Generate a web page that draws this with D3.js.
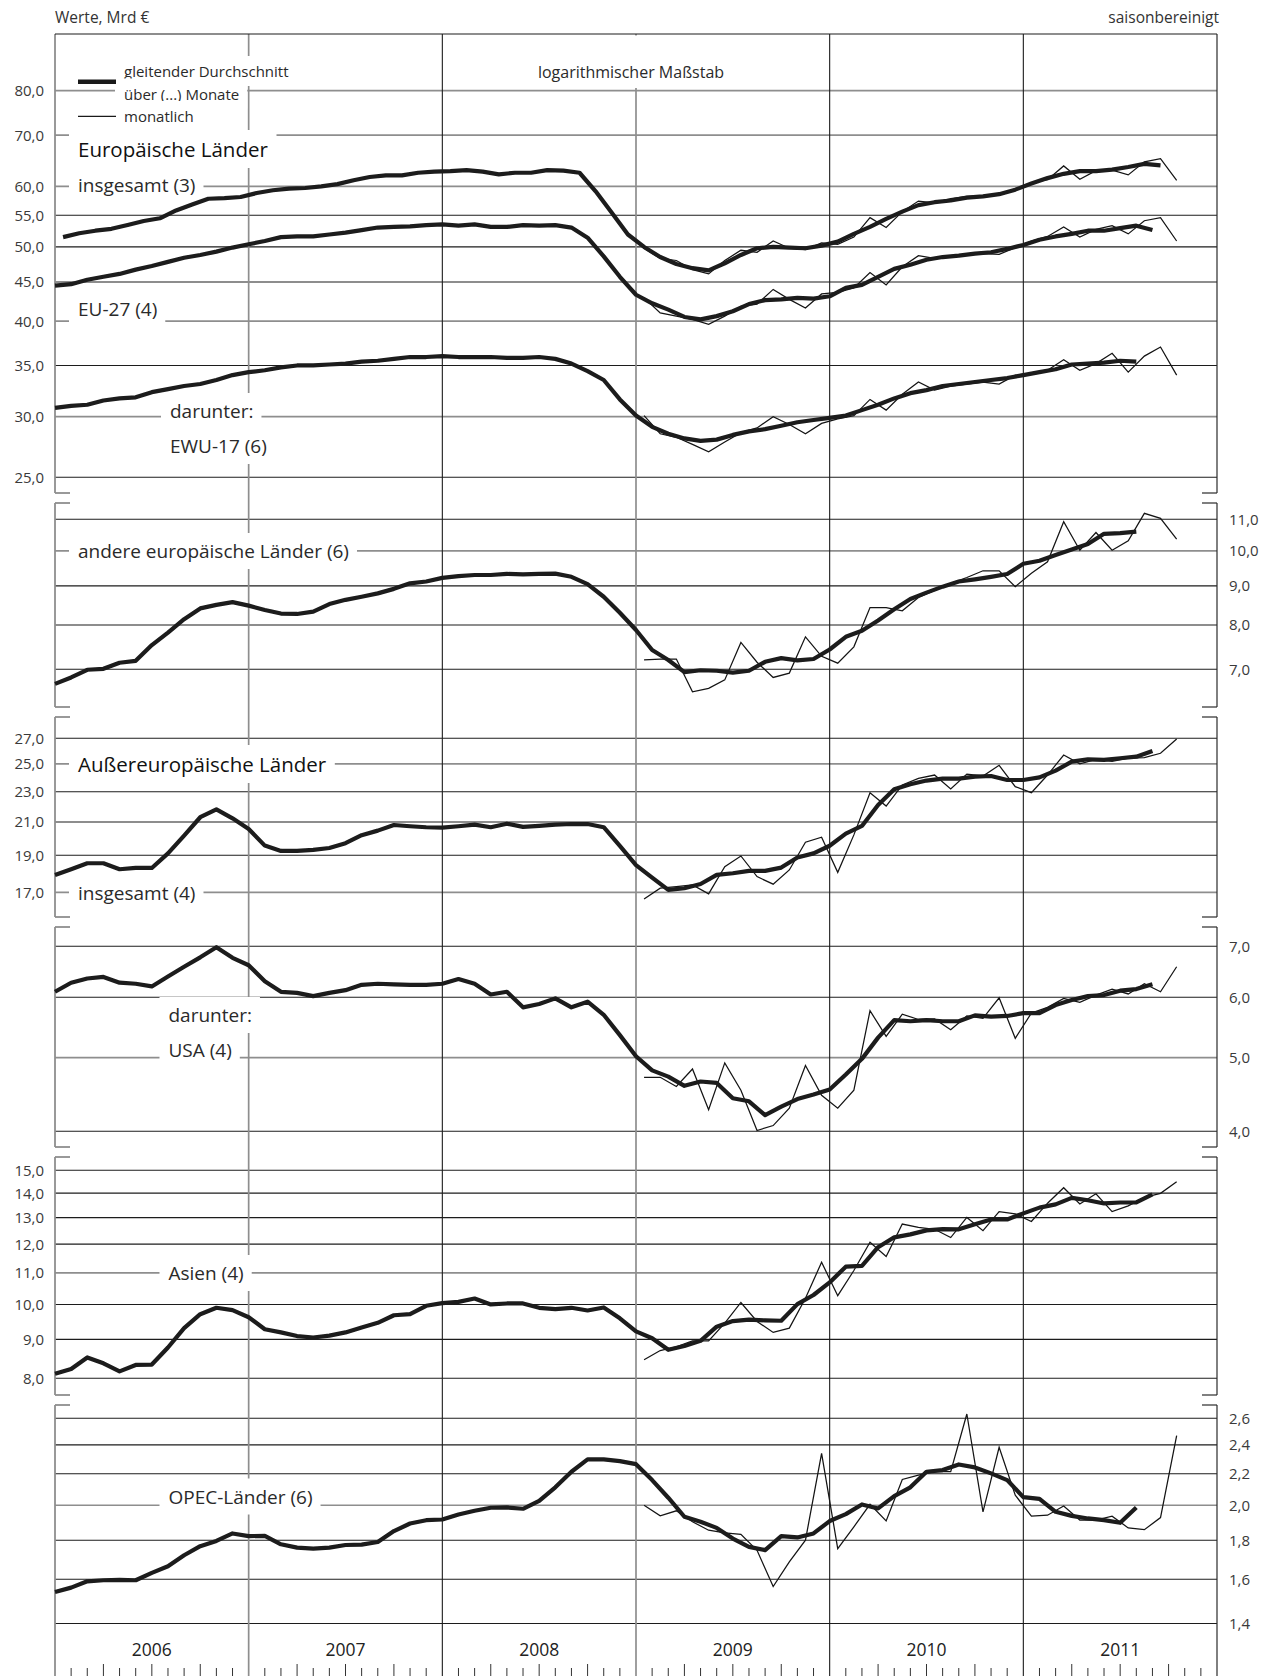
<!DOCTYPE html>
<html>
<head>
<meta charset="utf-8">
<script src="https://cdn.jsdelivr.net/npm/d3@7/dist/d3.min.js"></script>
<style>
  body { margin: 0; background: #fff; }
  svg text { font-family: "Open Sans", "Noto Sans", sans-serif; }
</style>
</head>
<body>
<div id="chart"></div>
<script>
// categories and tick labels
const years = ["2006", "2007", "2008", "2009", "2010", "2011"];
const ticksEur = [80, 70, 60, 55, 50, 45, 40, 35, 30, 25];
const ticksAndere = [11, 10, 9, 8, 7];
const ticksAusser = [27, 25, 23, 21, 19, 17];
const ticksUsa = [7, 6, 5, 4];
const ticksAsien = [15, 14, 13, 12, 11, 10, 9, 8];
const ticksOpec = [2.6, 2.4, 2.2, 2.0, 1.8, 1.6, 1.4];

// moving averages, one value per month (Werte, Mrd €)
// (3) months centred on mid-month, starting Jan 2006
const maEurInsg = [51.5, 52.1, 52.5, 52.8, 53.4, 54.05, 54.5, 55.8, 56.8, 57.8, 57.9, 58.1,
  58.8, 59.3, 59.6, 59.7, 60.0, 60.4, 61.1, 61.7, 62.0, 62.0, 62.5, 62.7,
  62.8, 63.0, 62.7, 62.2, 62.5, 62.5, 63.0, 62.9, 62.5, 59.1, 55.4, 51.9,
  50.0, 48.5, 47.5, 46.9, 46.6, 47.6, 48.8, 49.8, 50.0, 49.9, 49.8, 50.2,
  50.8, 52.0, 53.1, 54.4, 55.6, 56.7, 57.2, 57.5, 58.0, 58.2, 58.6, 59.4,
  60.5, 61.5, 62.3, 62.8, 62.8, 63.1, 63.6, 64.2, 63.9];
// (4) and (6) months centred on month boundaries, starting 1 Jan 2006
const maEU27 = [44.5, 44.7, 45.3, 45.7, 46.1, 46.7, 47.2, 47.8, 48.4, 48.8, 49.3, 49.9,
  50.4, 50.9, 51.5, 51.6, 51.6, 51.9, 52.2, 52.6, 53.0, 53.1, 53.2, 53.4,
  53.5, 53.3, 53.5, 53.1, 53.1, 53.4, 53.3, 53.4, 53.0, 51.4, 48.6, 45.7,
  43.3, 42.2, 41.4, 40.5, 40.2, 40.6, 41.2, 42.1, 42.6, 42.7, 42.9, 42.8,
  43.1, 44.2, 44.6, 45.7, 46.8, 47.4, 48.1, 48.5, 48.7, 49.0, 49.2, 49.7,
  50.3, 51.1, 51.6, 52.0, 52.5, 52.5, 52.9, 53.3, 52.6];
const maEWU = [30.8, 31.0, 31.1, 31.5, 31.7, 31.8, 32.3, 32.6, 32.9, 33.1, 33.5, 34.0,
  34.3, 34.5, 34.8, 35.0, 35.0, 35.1, 35.2, 35.4, 35.5, 35.7, 35.9, 35.9,
  36.0, 35.9, 35.9, 35.9, 35.8, 35.8, 35.9, 35.7, 35.2, 34.4, 33.5, 31.6,
  30.1, 29.1, 28.5, 28.1, 27.9, 28.0, 28.4, 28.7, 28.9, 29.2, 29.5, 29.7,
  29.9, 30.1, 30.6, 31.1, 31.7, 32.2, 32.5, 32.9, 33.1, 33.3, 33.5, 33.7,
  34.0, 34.3, 34.6, 35.1, 35.2, 35.3, 35.5, 35.4];
const maAndere = [6.70, 6.83, 6.99, 7.01, 7.14, 7.18, 7.53, 7.82, 8.14, 8.41, 8.50, 8.57,
  8.48, 8.37, 8.28, 8.27, 8.33, 8.52, 8.63, 8.71, 8.80, 8.92, 9.07, 9.12,
  9.22, 9.27, 9.30, 9.30, 9.33, 9.32, 9.33, 9.34, 9.25, 9.05, 8.71, 8.30,
  7.88, 7.42, 7.20, 6.94, 6.98, 6.97, 6.93, 6.97, 7.16, 7.24, 7.19, 7.22,
  7.43, 7.72, 7.86, 8.11, 8.39, 8.65, 8.82, 8.98, 9.12, 9.18, 9.25, 9.33,
  9.62, 9.71, 9.88, 10.04, 10.21, 10.53, 10.55, 10.60];
const maAusser = [17.91, 18.22, 18.55, 18.55, 18.22, 18.29, 18.29, 19.11, 20.16, 21.30, 21.81, 21.23,
  20.56, 19.56, 19.25, 19.25, 19.31, 19.42, 19.70, 20.18, 20.46, 20.81, 20.73, 20.67,
  20.65, 20.73, 20.83, 20.67, 20.89, 20.69, 20.75, 20.83, 20.87, 20.87, 20.67, 19.55,
  18.45, 17.77, 17.12, 17.21, 17.43, 17.91, 18.00, 18.13, 18.13, 18.31, 18.87, 19.11,
  19.55, 20.28, 20.75, 22.10, 23.17, 23.52, 23.78, 23.92, 23.92, 24.06, 24.11, 23.82,
  23.82, 24.01, 24.50, 25.17, 25.35, 25.30, 25.43, 25.55, 25.99];
const maUsa = [6.10, 6.27, 6.35, 6.38, 6.27, 6.25, 6.20, 6.39, 6.58, 6.77, 6.98, 6.76,
  6.61, 6.30, 6.10, 6.08, 6.02, 6.08, 6.13, 6.23, 6.25, 6.24, 6.23, 6.23,
  6.25, 6.34, 6.25, 6.05, 6.10, 5.82, 5.88, 5.98, 5.82, 5.92, 5.69, 5.35,
  5.02, 4.81, 4.72, 4.59, 4.65, 4.63, 4.42, 4.38, 4.20, 4.31, 4.41, 4.47,
  4.54, 4.75, 4.98, 5.31, 5.60, 5.58, 5.60, 5.58, 5.58, 5.68, 5.66, 5.67,
  5.72, 5.72, 5.86, 5.95, 6.02, 6.04, 6.12, 6.15, 6.24];
const maAsien = [8.11, 8.23, 8.52, 8.37, 8.17, 8.33, 8.34, 8.78, 9.31, 9.71, 9.90, 9.83,
  9.62, 9.28, 9.19, 9.09, 9.05, 9.10, 9.19, 9.33, 9.46, 9.68, 9.71, 9.96,
  10.04, 10.08, 10.18, 10.00, 10.03, 10.03, 9.90, 9.86, 9.90, 9.82, 9.91, 9.59,
  9.22, 9.03, 8.72, 8.82, 8.96, 9.35, 9.51, 9.55, 9.53, 9.52, 10.01, 10.29,
  10.69, 11.21, 11.24, 11.89, 12.25, 12.36, 12.51, 12.56, 12.55, 12.74, 12.93, 12.93,
  13.17, 13.40, 13.53, 13.80, 13.70, 13.57, 13.61, 13.61, 13.95];
const maOpec = [1.54, 1.56, 1.59, 1.595, 1.597, 1.595, 1.631, 1.664, 1.720, 1.768, 1.796, 1.837,
  1.822, 1.824, 1.778, 1.760, 1.755, 1.760, 1.774, 1.776, 1.790, 1.850, 1.893, 1.912,
  1.916, 1.945, 1.967, 1.985, 1.987, 1.979, 2.027, 2.111, 2.213, 2.297, 2.297, 2.285,
  2.264, 2.158, 2.046, 1.932, 1.903, 1.868, 1.809, 1.764, 1.747, 1.822, 1.815, 1.837,
  1.907, 1.947, 2.005, 1.981, 2.056, 2.111, 2.213, 2.224, 2.262, 2.242, 2.202, 2.158,
  2.050, 2.039, 1.961, 1.937, 1.922, 1.912, 1.897, 1.987];

// monthly values Jan 2009 - Oct 2011
const monEurInsg = [49.8, 48.3, 48.0, 46.7, 46.1, 48.0, 49.5, 49.2, 50.9, 49.8, 49.6, 50.6,
  50.4, 51.5, 54.6, 53.0, 55.6, 57.4, 57.1, 57.8, 58.2, 58.3, 58.5, 59.5,
  60.6, 61.2, 63.8, 61.3, 62.9, 63.0, 62.1, 64.6, 65.2, 61.1];
const monEU27 = [42.9, 41.0, 40.6, 40.2, 39.6, 40.6, 41.8, 42.1, 44.0, 42.7, 41.6, 43.4,
  43.6, 44.2, 46.3, 44.6, 47.1, 48.7, 48.3, 48.5, 48.8, 49.0, 48.9, 49.9,
  50.9, 51.6, 53.1, 51.5, 52.7, 53.3, 52.0, 54.1, 54.6, 50.9];
const monEWU = [30.1, 28.5, 28.2, 27.6, 27.0, 27.8, 28.6, 29.0, 30.0, 29.3, 28.5, 29.4,
  29.8, 30.1, 31.6, 30.6, 32.1, 33.3, 32.5, 32.9, 33.1, 33.3, 33.1, 34.0,
  34.2, 34.5, 35.6, 34.5, 35.2, 36.3, 34.3, 36.0, 37.0, 34.0];
const monAndere = [7.20, 7.22, 7.22, 6.54, 6.61, 6.78, 7.59, 7.15, 6.83, 6.92, 7.72, 7.28,
  7.13, 7.49, 8.43, 8.43, 8.35, 8.69, 8.88, 9.07, 9.23, 9.42, 9.42, 8.98,
  9.35, 9.68, 10.92, 10.02, 10.57, 10.02, 10.31, 11.20, 11.03, 10.36];
const monAusser = [16.66, 17.21, 17.29, 17.38, 16.92, 18.36, 18.96, 17.82, 17.42, 18.18, 19.76, 20.06,
  18.05, 20.20, 22.93, 22.03, 23.47, 23.94, 24.18, 23.19, 24.25, 24.11, 24.90, 23.35,
  22.93, 24.18, 25.68, 25.00, 25.35, 25.19, 25.43, 25.48, 25.81, 26.95];
const monUsa = [4.71, 4.71, 4.58, 4.83, 4.27, 4.92, 4.53, 4.01, 4.07, 4.29, 4.88, 4.46,
  4.29, 4.53, 5.76, 5.33, 5.70, 5.61, 5.62, 5.44, 5.67, 5.63, 5.99, 5.30,
  5.72, 5.82, 5.98, 5.91, 6.04, 6.15, 6.06, 6.25, 6.10, 6.58];
const monAsien = [8.46, 8.70, 8.80, 8.96, 8.96, 9.45, 10.06, 9.50, 9.19, 9.31, 10.19, 11.36,
  10.27, 11.08, 12.07, 11.56, 12.75, 12.62, 12.55, 12.24, 13.01, 12.50, 13.24, 13.15,
  12.85, 13.58, 14.23, 13.55, 13.97, 13.24, 13.47, 13.82, 13.99, 14.49];
const monOpec = [2.000, 1.937, 1.967, 1.903, 1.855, 1.840, 1.832, 1.746, 1.565, 1.686, 1.800, 2.339,
  1.755, 1.874, 2.006, 1.908, 2.162, 2.190, 2.213, 2.213, 2.634, 1.961, 2.382, 2.062,
  1.935, 1.941, 1.996, 1.913, 1.912, 1.935, 1.868, 1.858, 1.927, 2.467];

// layout
var W = 1264, H = 1676;
var plotL = 55, plotR = 1217, chartTop = 34, chartBottom = 1676;
var greyLine = "#8e8e8e", darkLine = "#1c1c1c";

var svg = d3.select("#chart").append("svg")
    .attr("width", W)
    .attr("height", H);

// x scale in months since 1 Jan 2006
var x = d3.scaleLinear().domain([0, 72]).range([plotL, plotR]);

// every panel has its own log scale (same px per decade)
var panels = [
  {dom: [25, 80], rng: [477.3, 90.7], y0: chartTop, y1: 493, side: "left", ticks: ticksEur, grey: [80, 70, 60, 40, 30]},
  {dom: [7, 11], rng: [669.3, 519.3], y0: 503, y1: 707, side: "right", ticks: ticksAndere, grey: [10]},
  {dom: [17, 27], rng: [892.3, 738.3], y0: 717, y1: 917, side: "left", ticks: ticksAusser, grey: [25, 17]},
  {dom: [4, 7], rng: [1131.3, 946.3], y0: 927, y1: 1147, side: "right", ticks: ticksUsa, grey: [5]},
  {dom: [8, 15], rng: [1378.3, 1170.3], y0: 1157, y1: 1395, side: "left", ticks: ticksAsien, grey: [11]},
  {dom: [1.4, 2.6], rng: [1623.5, 1418.3], y0: 1405, y1: chartBottom, side: "right", ticks: ticksOpec, grey: [2.0]}
];
panels.forEach(function(p) {
  p.y = d3.scaleLog().domain(p.dom).range(p.rng);
});

var series = [
  {p: 0, ma: maEurInsg, maStart: 0.5, mon: monEurInsg},
  {p: 0, ma: maEU27, maStart: 0, mon: monEU27},
  {p: 0, ma: maEWU, maStart: 0, mon: monEWU},
  {p: 1, ma: maAndere, maStart: 0, mon: monAndere},
  {p: 2, ma: maAusser, maStart: 0, mon: monAusser},
  {p: 3, ma: maUsa, maStart: 0, mon: monUsa},
  {p: 4, ma: maAsien, maStart: 0, mon: monAsien},
  {p: 5, ma: maOpec, maStart: 0, mon: monOpec}
];
var monStart = 36.5;

var fmt = function(v) { return d3.format(".1f")(v).replace(".", ","); };

// title row
svg.append("text").attr("x", plotL).attr("y", 23)
  .style("font-size", "15.5px").attr("fill", "#333").text("Werte, Mrd €");
svg.append("text").attr("x", plotR + 2).attr("y", 23).attr("text-anchor", "end")
  .style("font-size", "15.5px").attr("fill", "#333").text("saisonbereinigt");

// horizontal grid lines
var grid = svg.append("g");
panels.forEach(function(p) {
  p.ticks.forEach(function(t) {
    var isGrey = p.grey.indexOf(t) >= 0;
    grid.append("line")
      .attr("x1", plotL).attr("x2", plotR)
      .attr("y1", p.y(t)).attr("y2", p.y(t))
      .attr("stroke", isGrey ? greyLine : darkLine)
      .attr("stroke-width", isGrey ? 1.7 : 1.1);
    grid.append("text")
      .attr("x", p.side == "left" ? 44 : 1229)
      .attr("y", p.y(t) + 5.5)
      .attr("text-anchor", p.side == "left" ? "end" : "start")
      .style("font-size", "15px")
      .attr("fill", "#3a3a3a")
      .text(fmt(t));
  });
});

// year separators
var yearG = svg.append("g");
d3.range(1, 6).forEach(function(i) {
  var grey = (i == 1 || i == 3);
  yearG.append("line")
    .attr("x1", x(i * 12)).attr("x2", x(i * 12))
    .attr("y1", chartTop).attr("y2", chartBottom)
    .attr("stroke", grey ? greyLine : darkLine)
    .attr("stroke-width", grey ? 1.7 : 1.1);
});

// panel side lines with small brackets
var frame = svg.append("g");
panels.forEach(function(p) {
  frame.append("line").attr("x1", plotL).attr("x2", plotL).attr("y1", p.y0).attr("y2", p.y1)
    .attr("stroke", greyLine).attr("stroke-width", 1.8);
  frame.append("line").attr("x1", plotR).attr("x2", plotR).attr("y1", p.y0).attr("y2", p.y1)
    .attr("stroke", "#2a2a2a").attr("stroke-width", 1.2);
  [p.y0, p.y1].forEach(function(yy) {
    if (yy == chartTop || yy == chartBottom) return;
    frame.append("line").attr("x1", plotL).attr("x2", plotL + 15).attr("y1", yy).attr("y2", yy)
      .attr("stroke", greyLine).attr("stroke-width", 1.8);
    frame.append("line").attr("x1", plotR - 15).attr("x2", plotR).attr("y1", yy).attr("y2", yy)
      .attr("stroke", "#2a2a2a").attr("stroke-width", 1.2);
  });
});

// text labels, white boxes cut the grid lines behind them
var labels = [
  {lines: ["gleitender Durchschnitt", "über (...) Monate", "monatlich"], x: 124, ys: [77, 99.5, 122], size: 15},
  {lines: ["Europäische Länder"], x: 78, ys: [157], size: 20.5, weight: 500},
  {lines: ["insgesamt (3)"], x: 78, ys: [192], size: 19},
  {lines: ["EU-27 (4)"], x: 78, ys: [316], size: 19},
  {lines: ["darunter:", "EWU-17 (6)"], x: 170, ys: [418, 453], size: 19},
  {lines: ["logarithmischer Maßstab"], x: 631, ys: [78], size: 16, anchor: "middle", boxTop: 35.5},
  {lines: ["andere europäische Länder (6)"], x: 78, ys: [558], size: 19},
  {lines: ["Außereuropäische Länder"], x: 78, ys: [772], size: 20.5, weight: 500},
  {lines: ["insgesamt (4)"], x: 78, ys: [900], size: 19},
  {lines: ["darunter:", "USA (4)"], x: 168.5, ys: [1022, 1057], size: 19},
  {lines: ["Asien (4)"], x: 168.5, ys: [1280], size: 19},
  {lines: ["OPEC-Länder (6)"], x: 168.5, ys: [1503.5], size: 19}
];
var labG = svg.append("g");
labels.forEach(function(l) {
  l.lines.forEach(function(s, i) {
    var g = labG.append("g");
    var t = g.append("text")
      .attr("x", l.x).attr("y", l.ys[i])
      .attr("text-anchor", l.anchor || "start")
      .style("font-size", l.size + "px")
      .style("font-weight", l.weight || 400)
      .attr("fill", l.weight ? "#111" : "#2a2a2a")
      .text(s);
    var b = t.node().getBBox();
    var y0 = (i == 0 && l.boxTop) ? l.boxTop : b.y - 5;
    g.insert("rect", "text")
      .attr("x", b.x - 9).attr("y", y0)
      .attr("width", b.width + 17).attr("height", b.y + b.height + 5 - y0)
      .attr("fill", "#fff");
  });
});
// legend samples
labG.append("line").attr("x1", 78).attr("x2", 116).attr("y1", 81.7).attr("y2", 81.7)
  .attr("stroke", "#1a1a1a").attr("stroke-width", 4.5);
labG.append("line").attr("x1", 78).attr("x2", 116).attr("y1", 116.3).attr("y2", 116.3)
  .attr("stroke", "#1a1a1a").attr("stroke-width", 1.3);

// top border
svg.append("line").attr("x1", plotL).attr("x2", plotR)
  .attr("y1", chartTop).attr("y2", chartTop)
  .attr("stroke", darkLine).attr("stroke-width", 1.2);

// data lines
var lineG = svg.append("g");
series.forEach(function(s) {
  var p = panels[s.p];
  var line = d3.line().x(function(d) { return x(d.t); }).y(function(d) { return p.y(d.v); });
  var mon = s.mon.map(function(v, i) { return {t: monStart + i, v: v}; });
  var ma = s.ma.map(function(v, i) { return {t: s.maStart + i, v: v}; });
  lineG.append("path").datum(mon).attr("d", line)
    .attr("fill", "none").attr("stroke", "#141414").attr("stroke-width", 1.25)
    .attr("stroke-linejoin", "miter");
  lineG.append("path").datum(ma).attr("d", line)
    .attr("fill", "none").attr("stroke", "#1c1c1c").attr("stroke-width", 4.2)
    .attr("stroke-linejoin", "round");
});

// x axis: years and month ticks
var xaxis = svg.append("g");
years.forEach(function(yr, i) {
  xaxis.append("text")
    .attr("x", x(i * 12 + 6)).attr("y", 1656)
    .attr("text-anchor", "middle")
    .style("font-size", "17.5px").style("font-weight", 500)
    .attr("fill", "#222")
    .text(yr);
});
d3.range(1, 72).forEach(function(m) {
  if (m % 12 == 0) return;
  xaxis.append("line")
    .attr("x1", x(m)).attr("x2", x(m))
    .attr("y1", m % 3 == 0 ? 1664 : 1668).attr("y2", chartBottom)
    .attr("stroke", "#333").attr("stroke-width", 1);
});
</script>
</body>
</html>
